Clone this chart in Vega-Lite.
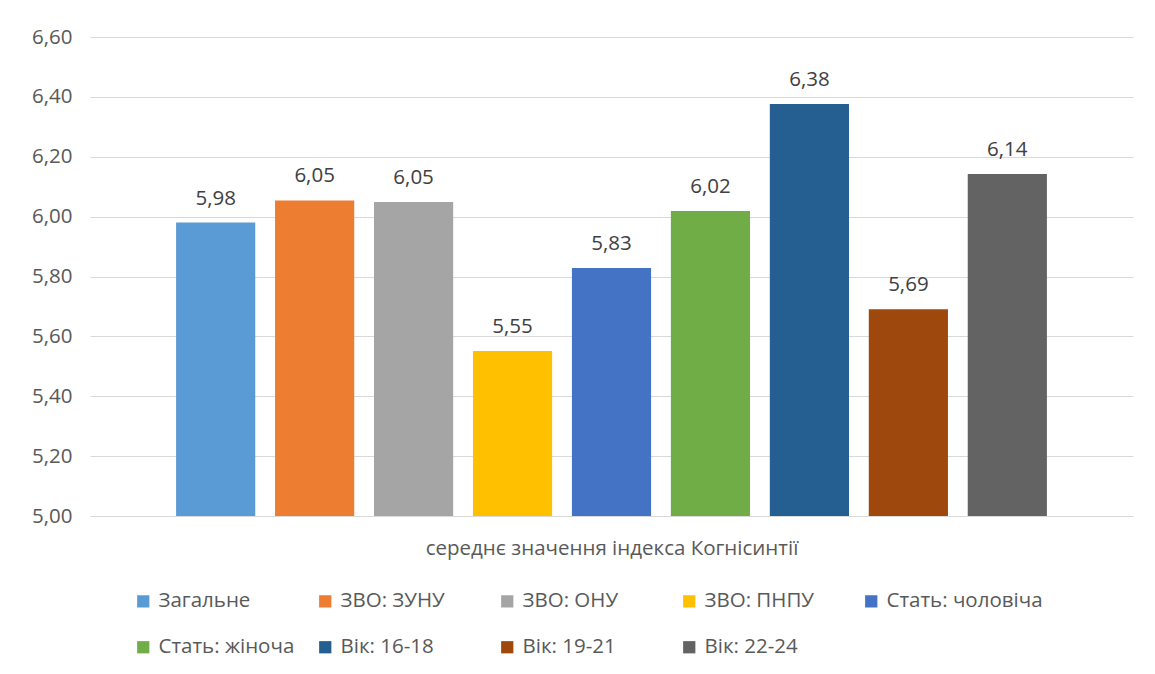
{
  "$schema": "https://vega.github.io/schema/vega-lite/v6.json",
  "width": 1043,
  "height": 479,
  "autosize": {"type": "none"},
  "padding": {"left": 90, "top": 37, "right": 22, "bottom": 158},
  "background": "#ffffff",
  "config": {
    "locale": {"number": {"decimal": ",", "thousands": " ", "grouping": [3], "currency": ["", ""]}},
    "font": "Open Sans",
    "view": {"stroke": null}
  },
  "data": {
    "values": [
      {"group": "Загальне", "value": 5.98},
      {"group": "ЗВО: ЗУНУ", "value": 6.054},
      {"group": "ЗВО: ОНУ", "value": 6.049},
      {"group": "ЗВО: ПНПУ", "value": 5.551},
      {"group": "Стать: чоловіча", "value": 5.828},
      {"group": "Стать: жіноча", "value": 6.019},
      {"group": "Вік: 16-18", "value": 6.376},
      {"group": "Вік: 19-21", "value": 5.691},
      {"group": "Вік: 22-24", "value": 6.142}
    ]
  },
  "encoding": {
    "x": {
      "field": "group",
      "type": "nominal",
      "sort": null,
      "scale": {"paddingInner": 0.2, "paddingOuter": 0.87},
      "axis": {
        "title": "середнє значення індекса Когнісинтії",
        "labels": false,
        "ticks": false,
        "domain": true,
        "domainColor": "#d9d9d9",
        "domainWidth": 1,
        "titleFont": "Open Sans",
        "titleFontSize": 20.5,
        "titleFontWeight": "normal",
        "titleColor": "#595959",
        "titlePadding": 22
      }
    },
    "y": {
      "field": "value",
      "type": "quantitative",
      "scale": {"domain": [5, 6.6], "zero": false, "nice": false},
      "axis": {
        "title": null,
        "values": [5, 5.2, 5.4, 5.6, 5.8, 6, 6.2, 6.4, 6.6],
        "format": ".2f",
        "domain": false,
        "ticks": false,
        "grid": true,
        "gridColor": "#d9d9d9",
        "gridWidth": 1,
        "labelFont": "Open Sans",
        "labelFontSize": 20.5,
        "labelColor": "#595959",
        "labelPadding": 18
      }
    }
  },
  "layer": [
    {
      "mark": {"type": "bar"},
      "encoding": {
        "y2": {"datum": 5},
        "color": {
          "field": "group",
          "type": "nominal",
          "scale": {
            "domain": ["Загальне", "ЗВО: ЗУНУ", "ЗВО: ОНУ", "ЗВО: ПНПУ", "Стать: чоловіча", "Стать: жіноча", "Вік: 16-18", "Вік: 19-21", "Вік: 22-24"],
            "range": ["#5b9bd5", "#ed7d31", "#a5a5a5", "#ffc000", "#4472c4", "#70ad47", "#255e91", "#9e480e", "#636363"]
          },
          "legend": {
            "title": null,
            "orient": "none",
            "legendX": 43,
            "legendY": 554,
            "direction": "horizontal",
            "columns": 5,
            "gridAlign": "all",
            "symbolType": "square",
            "symbolSize": 150,
            "symbolStrokeWidth": 0,
            "labelFont": "Open Sans",
            "labelFontSize": 20.5,
            "labelColor": "#595959",
            "labelOffset": 5,
            "labelLimit": 300,
            "columnPadding": -2,
            "rowPadding": 25
          }
        }
      }
    },
    {
      "mark": {"type": "text", "baseline": "bottom", "dy": -14, "font": "Open Sans", "fontSize": 20.5, "color": "#404040"},
      "encoding": {
        "text": {"field": "value", "type": "quantitative", "format": ".2f"}
      }
    }
  ]
}
